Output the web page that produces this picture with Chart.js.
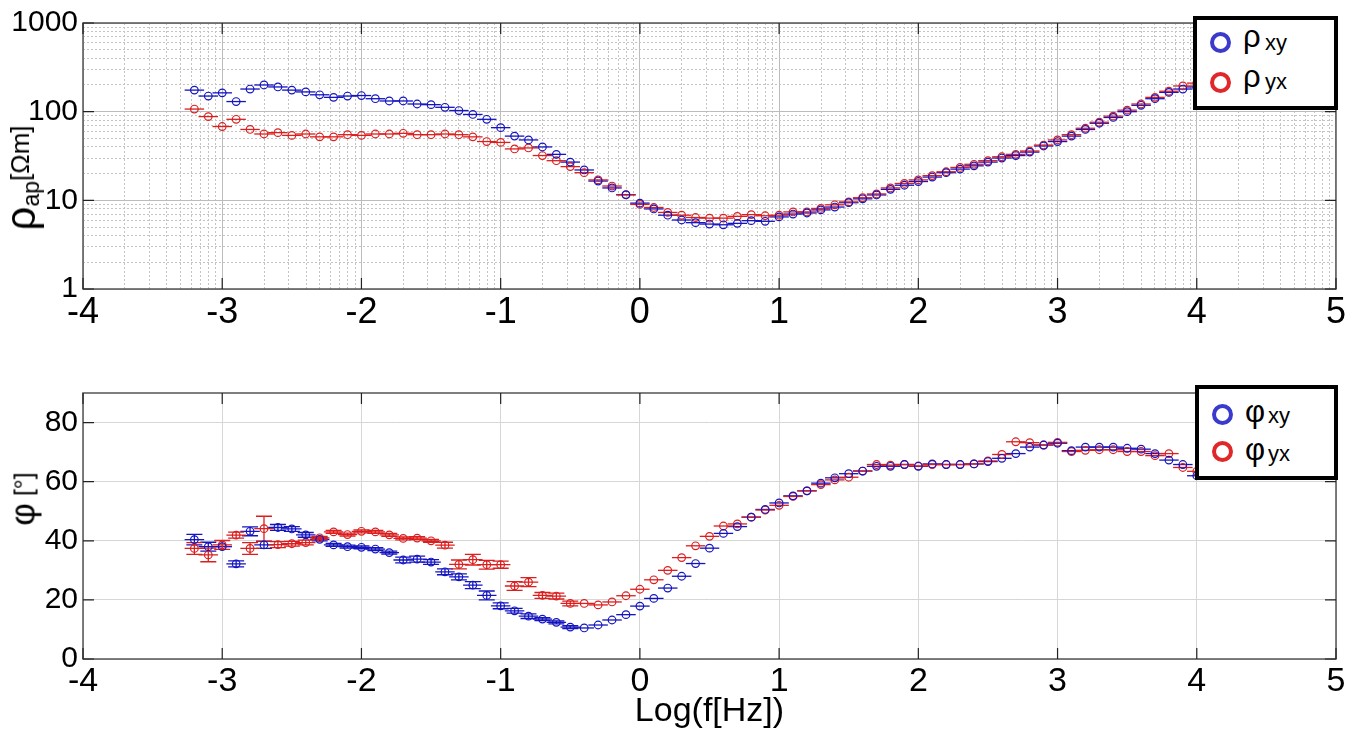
<!DOCTYPE html>
<html>
<head>
<meta charset="utf-8">
<script src="https://cdn.jsdelivr.net/npm/chart.js@4"></script>
<style>
body{margin:0;background:#fff;width:1348px;height:736px;overflow:hidden;position:relative;font-family:"Liberation Sans",Arial,sans-serif;color:#000}
canvas{position:absolute;left:0}
#rhoChart{top:0}
#phiChart{top:370px}
.leg{position:absolute;border:4px solid #000;box-sizing:border-box;background:#fff}
.ring{position:absolute;width:21px;height:21px;border-radius:50%;border:4.5px solid;box-sizing:border-box}
.sym{position:absolute;font-size:31px;line-height:30px}
.sub{position:absolute;font-size:22px;line-height:22px}
.ylab{position:absolute;transform:translate(-50%,-50%) rotate(-90deg);white-space:nowrap;line-height:1}
</style>
</head>
<body>
<canvas id="rhoChart" width="1348" height="340"></canvas>
<canvas id="phiChart" width="1348" height="366"></canvas>

<div class="ylab" style="left:21px;top:178px"><span style="font-size:42px">ρ</span><span style="font-size:23px;position:relative;top:4px">ap</span><span style="font-size:26px;position:relative;top:-6px">[Ωm]</span></div>
<div class="ylab" style="left:22px;top:499px"><span style="font-size:35px">φ</span><span style="font-size:25px;position:relative;top:-2px"> [°]</span></div>

<div class="leg" style="left:1193px;top:16px;width:145px;height:94px"></div>
<span class="ring" style="left:1210px;top:32px;border-color:#3a3acd"></span>
<span class="sym" style="left:1243px;top:22px">ρ</span><span class="sub" style="left:1265px;top:32px">xy</span>
<span class="ring" style="left:1210px;top:72px;border-color:#e0282a"></span>
<span class="sym" style="left:1243px;top:62px">ρ</span><span class="sub" style="left:1265px;top:71px">yx</span>

<div class="leg" style="left:1195px;top:385px;width:143px;height:95px"></div>
<span class="ring" style="left:1212px;top:404px;border-color:#3a3acd"></span>
<span class="sym" style="left:1245px;top:397px">φ</span><span class="sub" style="left:1268px;top:405px">xy</span>
<span class="ring" style="left:1212px;top:441px;border-color:#e0282a"></span>
<span class="sym" style="left:1245px;top:435px">φ</span><span class="sub" style="left:1268px;top:443px">yx</span>

<script>
// log10 of frequency [Hz]
var logF = [-3.2,-3.1,-3.0,-2.9,-2.8,-2.7,-2.6,-2.5,-2.4,-2.3,
    -2.2,-2.1,-2.0,-1.9,-1.8,-1.7,-1.6,-1.5,-1.4,-1.3,
    -1.2,-1.1,-1.0,-0.9,-0.8,-0.7,-0.6,-0.5,-0.4,-0.3,
    -0.2,-0.1,0.0,0.1,0.2,0.3,0.4,0.5,0.6,0.7,
    0.8,0.9,1.0,1.1,1.2,1.3,1.4,1.5,1.6,1.7,
    1.8,1.9,2.0,2.1,2.2,2.3,2.4,2.5,2.6,2.7,
    2.8,2.9,3.0,3.1,3.2,3.3,3.4,3.5,3.6,3.7,
    3.8,3.9,4.0]

// apparent resistivity [Ohm m]
var rhoXY = [175,150,163,130,180,200,190,175,167,155,
    145,150,152,140,132,132,122,120,112,103,
    93,82,66,53,48,40,33,27,22,16.5,
    13.8,11.6,9.3,8.0,6.8,6.0,5.6,5.4,5.3,5.5,
    5.9,5.8,6.5,7.0,7.2,7.8,8.4,9.4,10.4,11.5,
    13.3,14.8,16.3,18.3,20.5,22.5,24.5,27,30,32,
    35,41,46,53,63,74,86,100,118,140,
    165,180,190]
var rhoYX = [107,88,68,82,63,56,58,54,56,52,
    52,55,54,56,56,57,55,55,56,55,
    52,46,45,38,39,32,28,24,20.5,17,
    14.5,11.5,9,8.3,7.3,6.8,6.4,6.3,6.3,6.6,
    6.9,6.7,6.8,7.4,7.4,8.1,8.9,9.6,10.7,11.8,
    13.8,15.5,17,19,21,23.5,25.5,28,31,33,
    36,42,48,55,65,76,89,104,122,145,
    170,195,210]

// phase [deg]
var phiXY = [40.4,38,38,32.2,43.2,38.6,44.5,44,42,40.5,
    38.6,38,37.8,37.2,36,33.5,33.8,32.8,29.5,27.8,
    25,21.5,18,16.3,14.5,13.5,12.4,10.8,10.5,11.5,
    13.2,15,17.9,20.5,24,28,32.3,37.5,42.5,44.8,
    48,50.6,52.8,55.2,56.9,59.5,61.3,62.7,63.6,65.2,
    65.2,65.8,65.2,66,65.8,65.8,66,66.8,67.9,69.5,
    71.7,72.4,73,70.5,71.7,71.7,71.7,71.3,71,69.5,
    67.3,65.8,62]
var phiYX = [37.4,35.2,38.6,41.9,37.4,44.1,38.7,39,39.4,41,
    43,42.1,43.2,43,42,40.8,40.9,40,38.5,32,
    33.6,31.9,31.9,24.7,26,21.5,21.3,18.8,18.8,18.3,
    19.3,21.4,23.6,26.8,30,34.3,38.3,41.5,45,45.7,
    48,50.4,52,55,56.9,59,60.6,61.5,63.6,65.8,
    65.6,65.8,65.3,65.8,65.8,65.8,66,67,69.2,73.5,
    73.2,72.4,73.3,70.2,70.6,70.8,70.8,70.2,70.2,68.8,
    69.5,64.8,63.5]

// phase error bars, only the noisy low frequency end (rest is 0)
var phiErrXY = [1.8,1.5,0,1,1.5,1.2,1,0.8,0.8,0.5,
    0.5,0.5,0.5,0.5,0.5,1,1,0.8,1,1,
    1.2,1.5,1,0.8,0.8,0.5,0.5,0.5]
var phiErrYX = [2,2.3,1.5,1,2,4.2,1,0.8,0.8,0.5,
    0.5,0.5,0.5,0.5,0.5,0.5,0.5,0.5,1,1.5,
    1.8,1.5,1.2,1.5,1.5,1,1,0.8]

var X_TICKS = [-4,-3,-2,-1,0,1,2,3,4,5]
var RHO_TICKS = [1,10,100,1000]
var PHI_TICKS = [0,20,40,60,80]
var X_ERR = 0.07

var BLUE = '#1414c0'
var RED = '#dc1e1e'
var FONT = 'Liberation Sans'

function pts(ys){
    return logF.map(function(x,i){ return {x:x, y:ys[i]} })
}

// horizontal error bar on every point, vertical where yerr given
var errorBars = {
    id:'errorBars',
    beforeDatasetsDraw: function(chart){
        var ctx = chart.ctx, xs = chart.scales.x, ys = chart.scales.y
        var a = chart.chartArea
        ctx.save()
        ctx.beginPath(); ctx.rect(a.left,a.top,a.right-a.left,a.bottom-a.top); ctx.clip()
        chart.data.datasets.forEach(function(ds){
            ctx.strokeStyle = ds.borderColor
            ctx.lineWidth = 1.3
            ds.data.forEach(function(p,i){
                var py = ys.getPixelForValue(p.y)
                ctx.beginPath()
                ctx.moveTo(xs.getPixelForValue(p.x - X_ERR), py)
                ctx.lineTo(xs.getPixelForValue(p.x + X_ERR), py)
                var e = ds.yerr ? ds.yerr[i] : 0
                if(e){
                    var px = xs.getPixelForValue(p.x)
                    var ya = ys.getPixelForValue(p.y + e), yb = ys.getPixelForValue(p.y - e)
                    ctx.moveTo(px,ya); ctx.lineTo(px,yb)
                    ctx.moveTo(px-8,ya); ctx.lineTo(px+8,ya)
                    ctx.moveTo(px-8,yb); ctx.lineTo(px+8,yb)
                }
                ctx.stroke()
            })
        })
        ctx.restore()
    }
}

// box around plot + matlab style inward ticks
var frame = {
    id:'frame',
    afterDraw: function(chart){
        var a = chart.chartArea, ctx = chart.ctx
        var xs = chart.scales.x, ys = chart.scales.y
        var yMajor = chart.options.plugins.frame.yMajor
        ctx.save()
        ctx.strokeStyle = '#555'
        ctx.lineWidth = 1.5
        ctx.strokeRect(a.left, a.top, a.right-a.left, a.bottom-a.top)
        ctx.strokeStyle = '#222'
        ctx.lineWidth = 1.2
        ctx.beginPath()
        X_TICKS.forEach(function(v){
            var px = xs.getPixelForValue(v)
            ctx.moveTo(px,a.bottom); ctx.lineTo(px,a.bottom-11)
            ctx.moveTo(px,a.top); ctx.lineTo(px,a.top+11)
        })
        yMajor.forEach(function(v){
            var py = ys.getPixelForValue(v)
            ctx.moveTo(a.left,py); ctx.lineTo(a.left+11,py)
            ctx.moveTo(a.right,py); ctx.lineTo(a.right-11,py)
        })
        ctx.stroke()
        ctx.restore()
    }
}

function isMajorX(v){ return X_TICKS.indexOf(v) >= 0 }

function dataset(label, ys, color, err){
    return {
        label: label,
        data: pts(ys),
        yerr: err,
        borderColor: color,
        backgroundColor: 'rgba(0,0,0,0)',
        pointStyle: 'circle',
        pointRadius: 3.8,
        pointBorderWidth: 1.2,
        showLine: false
    }
}

// top: resistivity, log y and log-style minor grid
var rhoMinorX = []
X_TICKS.forEach(function(v,i){
    if(i == X_TICKS.length-1) return
    for(var k=2;k<10;k++) rhoMinorX.push(v + Math.log10(k))
})

new Chart(document.getElementById('rhoChart'), {
    type: 'scatter',
    data: { datasets: [
        dataset('ρxy', rhoXY, BLUE),
        dataset('ρyx', rhoYX, RED)
    ]},
    options: {
        responsive: false,
        animation: false,
        layout: { padding: {top:18, right:12, left:0, bottom:0} },
        plugins: { legend:{display:false}, tooltip:{enabled:false}, frame:{yMajor:RHO_TICKS} },
        scales: {
            x: {
                type:'linear', min:-4, max:5,
                afterBuildTicks: function(s){
                    s.ticks = X_TICKS.concat(rhoMinorX).sort(function(a,b){return a-b}).map(function(v){ return {value:v} })
                },
                afterFit: function(s){ s.height = 51 },
                ticks: {
                    autoSkip:false, maxRotation:0, minRotation:0, padding:2, color:'#000',
                    font:{family:FONT, size:36},
                    callback: function(v){ return isMajorX(v) ? String(v) : '' }
                },
                grid: {
                    drawTicks:false,
                    color: function(c){ return c.tick && isMajorX(c.tick.value) ? '#bcbcbc' : '#c4c4c4' },
                    lineWidth: 1
                },
                border: { display:false, dash: function(c){ return c.tick && !isMajorX(c.tick.value) ? [2,2] : [] } }
            },
            y: {
                type:'logarithmic', min:1, max:1000,
                afterBuildTicks: function(s){
                    var t = []
                    RHO_TICKS.forEach(function(v,i){
                        if(i < RHO_TICKS.length-1){ for(var k=1;k<10;k++) t.push({value:v*k}) }
                        else t.push({value:v})
                    })
                    s.ticks = t
                },
                afterFit: function(s){ s.width = 83 },
                ticks: {
                    autoSkip:false, padding:5, color:'#000',
                    font:{family:FONT, size:30},
                    callback: function(v){ return RHO_TICKS.indexOf(v) >= 0 ? String(v) : '' }
                },
                grid: {
                    drawTicks:false,
                    color: function(c){ return c.tick && RHO_TICKS.indexOf(c.tick.value) >= 0 ? '#bcbcbc' : '#c4c4c4' },
                    lineWidth: 1
                },
                border: { display:false, dash: function(c){ return c.tick && RHO_TICKS.indexOf(c.tick.value) < 0 ? [2,2] : [] } }
            }
        }
    },
    plugins: [errorBars, frame]
})

// bottom: phase
new Chart(document.getElementById('phiChart'), {
    type: 'scatter',
    data: { datasets: [
        dataset('φxy', phiXY, BLUE, phiErrXY),
        dataset('φyx', phiYX, RED, phiErrYX)
    ]},
    options: {
        responsive: false,
        animation: false,
        layout: { padding: {top:18, right:12, left:0, bottom:0} },
        plugins: { legend:{display:false}, tooltip:{enabled:false}, frame:{yMajor:PHI_TICKS} },
        scales: {
            x: {
                type:'linear', min:-4, max:5,
                afterBuildTicks: function(s){ s.ticks = X_TICKS.map(function(v){ return {value:v} }) },
                afterFit: function(s){ s.height = 77 },
                ticks: {
                    autoSkip:false, maxRotation:0, minRotation:0, padding:2, color:'#000',
                    font:{family:FONT, size:34}
                },
                grid: { drawTicks:false, color:'#d6d6d6' },
                border: { display:false },
                title: {
                    display:true, text:'Log(f[Hz])', color:'#000',
                    font:{family:FONT, size:34}, padding:{top:0, bottom:4}
                }
            },
            y: {
                type:'linear', min:0, max:90,
                afterBuildTicks: function(s){ s.ticks = PHI_TICKS.map(function(v){ return {value:v} }) },
                afterFit: function(s){ s.width = 83 },
                ticks: {
                    autoSkip:false, padding:5, color:'#000',
                    font:{family:FONT, size:30}
                },
                grid: { drawTicks:false, color:'#d6d6d6' },
                border: { display:false }
            }
        }
    },
    plugins: [errorBars, frame]
})
</script>
</body>
</html>
